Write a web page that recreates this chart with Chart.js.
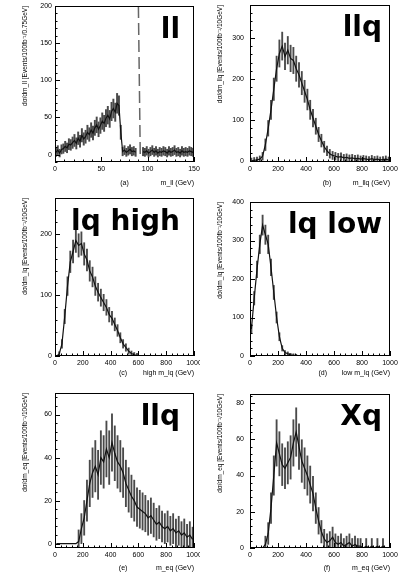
<!DOCTYPE html>
<html>
<head>
<meta charset="utf-8">
<title>Mass distributions</title>
<script src="https://cdn.jsdelivr.net/npm/chart.js@4.4.0/dist/chart.umd.min.js"></script>
<style>
    html, body { margin: 0; padding: 0; background: #fff; }
    #wrap { position: relative; width: 403px; height: 574px; overflow: hidden; }
    canvas { position: absolute; }
</style>
</head>
<body>
<div id="wrap">
    <canvas id="p1" width="200" height="190" style="left:0;top:0"></canvas>
    <canvas id="p2" width="203" height="190" style="left:200px;top:0"></canvas>
    <canvas id="p3" width="200" height="190" style="left:0;top:190px"></canvas>
    <canvas id="p4" width="203" height="190" style="left:200px;top:190px"></canvas>
    <canvas id="p5" width="200" height="194" style="left:0;top:380px"></canvas>
    <canvas id="p6" width="203" height="194" style="left:200px;top:380px"></canvas>
</div>
<script>
// (a) m_ll, 2 GeV bins from 0 to 150 (null = Z peak region, drawn dashed)
const llBin = 2;
const llValues = [
    3, 6, 2, 7, 8, 11, 9, 14, 13, 16,
    19, 15, 22, 18, 26, 21, 24, 30, 27, 33,
    29, 36, 40, 34, 39, 45, 42, 49, 53, 48,
    58, 62, 57, 69, 66, 30, 4, 6, 3, 5,
    7, 4, 5, 3,
    null, null, null,
    4, 3, 5, 2, 4, 6, 3, 5, 2, 4, 3, 5, 4, 2, 5, 3, 4, 6, 3, 4, 2, 5, 3, 4, 3, 5, 4, 3
];
const zPeakX = [90, 92];
const zPeakY = [200, 0];

// the other panels use 20 GeV bins from 0 to 1000
const massBin = 20;
const llqValues = [
    1, 2, 3, 5, 12, 40, 80, 125, 175, 225,
    262, 280, 255, 270, 250, 245, 225, 210, 190, 170,
    150, 125, 105, 85, 65, 50, 35, 25, 18, 14,
    12, 10, 11, 8, 9, 7, 8, 6, 7, 5,
    6, 5, 4, 6, 4, 5, 3, 4, 5, 3
];
const lqHighValues = [
    0, 3, 20, 65, 115, 155, 172, 190, 182, 185,
    168, 158, 140, 130, 115, 105, 96, 88, 80, 68,
    62, 52, 42, 30, 20, 14, 8, 4, 2, 1,
    0, 0, 0, 0, 0, 0, 0, 0, 0, 0,
    0, 0, 0, 0, 0, 0, 0, 0, 0, 0
];
const lqLowValues = [
    70, 150, 225, 290, 340, 315, 290, 230, 165, 100,
    50, 20, 9, 6, 3, 2, 1, 0, 0, 0,
    0, 0, 0, 0, 0, 0, 0, 0, 0, 0,
    0, 0, 0, 0, 0, 0, 0, 0, 0, 0,
    0, 0, 0, 0, 0, 0, 0, 0, 0, 0
];
const eqValues = [
    0, 0, 0, 0, 0, 0, 0, 0, 1, 7,
    12, 20, 28, 33, 36, 32, 40, 38, 44, 40,
    47, 42, 38, 36, 33, 28, 25, 22, 20, 17,
    16, 15, 14, 12, 13, 11, 9, 10, 8, 7,
    8, 6, 7, 5, 6, 4, 5, 3, 4, 2
];
const xqValues = [
    0, 0, 0, 0, 0, 2, 8, 22, 40, 58,
    52, 46, 44, 47, 50, 58, 64, 56, 48, 44,
    40, 35, 30, 22, 15, 9, 5, 3, 4, 6,
    3, 2, 3, 1, 2, 3, 1, 2, 1, 1,
    0, 1, 0, 1, 0, 1, 0, 1, 0, 0
];

// tick labels
const llTicksX = [0, 50, 100, 150];
const massTicksX = [0, 200, 400, 600, 800, 1000];
const llTicksY = [0, 50, 100, 150, 200];
const llqTicksY = [0, 100, 200, 300];
const lqHighTicksY = [0, 100, 200];
const lqLowTicksY = [0, 100, 200, 300, 400];
const eqTicksY = [0, 20, 40, 60];
const xqTicksY = [0, 20, 40, 60, 80];

const FONT = '"Liberation Sans", Arial, sans-serif';

// bin centres + statistical error bars
function histPoints(values, width) {
    return values.map((v, i) => ({ x: i * width + width / 2, y: v }));
}
function errPoints(values, width, k, c) {
    const pts = [];
    values.forEach((v, i) => {
        if (v === null || v === 0) return;
        const e = k * Math.sqrt(v + c);
        pts.push({ x: i * width + width / 2, y: [v - e, v + e] });
    });
    return pts;
}

// frame, inward ticks, big label and panel letter
const decor = {
    id: 'decor',
    afterDraw(chart, args, o) {
        const { ctx, chartArea: a, scales: { x, y } } = chart;
        ctx.save();
        ctx.strokeStyle = '#000';
        ctx.lineWidth = 1;
        ctx.strokeRect(a.left + 0.5, a.top + 0.5, a.right - a.left - 1, a.bottom - a.top - 1);

        const minorTicks = (scale, list) => {
            const step = (list[1] - list[0]) / 5;
            const out = [];
            for (let v = Math.ceil(scale.min / step) * step; v <= scale.max + 1e-9; v += step) {
                const major = list.some(t => Math.abs(t - v) < step / 10);
                out.push({ px: scale.getPixelForValue(v), len: major ? 5 : 2.5 });
            }
            return out;
        };
        ctx.beginPath();
        minorTicks(x, o.xTicks).forEach(t => {
            ctx.moveTo(Math.round(t.px) + 0.5, a.bottom);
            ctx.lineTo(Math.round(t.px) + 0.5, a.bottom - t.len);
        });
        minorTicks(y, o.yTicks).forEach(t => {
            ctx.moveTo(a.left, Math.round(t.px) + 0.5);
            ctx.lineTo(a.left + t.len, Math.round(t.px) + 0.5);
        });
        ctx.stroke();

        ctx.fillStyle = '#000';
        ctx.font = 'bold 28px "DejaVu Sans", sans-serif';
        ctx.textAlign = 'right';
        ctx.textBaseline = 'alphabetic';
        ctx.fillText(o.label, a.right - o.dx, a.top + o.dy);

        ctx.font = '7px ' + FONT;
        ctx.textAlign = 'center';
        ctx.textBaseline = 'middle';
        ctx.fillText(o.tag, a.left + (a.right - a.left) * o.tagFrac, x.bottom - o.titleOff);
        ctx.restore();
    }
};

function makePanel(id, p) {
    const datasets = [
        {
            type: 'line',
            data: histPoints(p.values, p.bin),
            borderColor: '#111',
            borderWidth: 1.2,
            pointRadius: 0,
            tension: 0,
            spanGaps: false,
            order: 0
        },
        {
            type: 'bar',
            data: errPoints(p.values, p.bin, p.errK, p.errC),
            backgroundColor: '#4a4a4a',
            borderWidth: 0,
            barThickness: p.barW,
            order: 1
        }
    ];
    if (p.extra) datasets.push(p.extra);

    new Chart(document.getElementById(id), {
        type: 'bar',
        data: { datasets },
        options: {
            responsive: false,
            animation: false,
            events: [],
            layout: { padding: { top: p.padTop, right: p.padRight, left: 0, bottom: 0 } },
            plugins: {
                legend: { display: false },
                tooltip: { enabled: false },
                decor: {
                    xTicks: p.xTicks, yTicks: p.yTicks, label: p.label, dx: p.dx, dy: p.dy,
                    tag: p.tag, tagFrac: p.tagFrac, titleOff: p.titleOff
                }
            },
            scales: {
                x: {
                    type: 'linear',
                    min: p.xMin,
                    max: p.xMax,
                    offset: false,
                    grid: { display: false, drawTicks: false },
                    border: { display: false },
                    ticks: {
                        font: { size: 7, family: FONT }, color: '#000', padding: 3, maxRotation: 0, autoSkip: false,
                        callback: v => String(v)
                    },
                    afterBuildTicks: s => { s.ticks = p.xTicks.map(v => ({ value: v })); },
                    afterFit: s => { s.height = p.xHeight; s.paddingLeft = 0; s.paddingRight = 0; },
                    title: {
                        display: true, text: p.xTitle, align: 'end', color: '#000',
                        font: { size: 7, family: FONT }, padding: { top: 0, bottom: p.titleOff - 4.2 }
                    }
                },
                y: {
                    type: 'linear',
                    min: p.yMin,
                    max: p.yMax,
                    grid: { display: false, drawTicks: false },
                    border: { display: false },
                    ticks: { font: { size: 7, family: FONT }, color: '#000', padding: p.yPad, callback: v => String(v) },
                    afterBuildTicks: s => { s.ticks = p.yTicks.map(v => ({ value: v })); },
                    afterFit: s => { s.width = p.yWidth; s.paddingTop = 0; s.paddingBottom = 0; },
                    title: {
                        display: true, text: p.yTitle, align: 'end', color: '#000',
                        font: { size: 6.5, family: FONT }, padding: { top: p.yTitleOff - 3.9, bottom: 0 }
                    }
                }
            }
        },
        plugins: [decor]
    });
}

const left = { padRight: 6, yWidth: 55, yPad: 3, yTitleOff: 25, dx: 14, dy: 32 };
const right = { padRight: 13, yWidth: 50, yPad: 6, yTitleOff: 20, dx: 8, dy: 31 };
const mass = { bin: massBin, xMin: 0, xMax: 1000, xTicks: massTicksX, barW: 1.2 };

makePanel('p1', Object.assign({}, left, {
    values: llValues, bin: llBin, xMin: 0, xMax: 150, xTicks: llTicksX, barW: 1.3,
    yMin: -10, yMax: 200, yTicks: llTicksY, errK: 1.5, errC: 10,
    padTop: 6, xHeight: 28, titleOff: 7,
    label: 'll', tag: '(a)', tagFrac: 0.5,
    xTitle: 'm_ll (GeV)', yTitle: 'dσ/dm_ll [Events/100fb⁻¹/0.75GeV]',
    extra: {
        type: 'line',
        data: zPeakX.map((v, i) => ({ x: v, y: zPeakY[i] })),
        borderColor: '#666',
        borderWidth: 1.5,
        borderDash: [12, 5],
        pointRadius: 0,
        order: 2
    }
}));
makePanel('p2', Object.assign({}, right, mass, {
    values: llqValues, yMin: -2, yMax: 380, yTicks: llqTicksY, errK: 2.0, errC: 10,
    padTop: 5, xHeight: 28, titleOff: 7,
    label: 'llq', tag: '(b)', tagFrac: 0.55,
    xTitle: 'm_llq (GeV)', yTitle: 'dσ/dm_llq [Events/100fb⁻¹/10GeV]'
}));
makePanel('p3', Object.assign({}, left, mass, {
    values: lqHighValues, yMin: 0, yMax: 260, yTicks: lqHighTicksY, errK: 1.4, errC: 5,
    padTop: 8, xHeight: 24, titleOff: 7,
    label: 'lq high', tag: '(c)', tagFrac: 0.49,
    xTitle: 'high m_lq (GeV)', yTitle: 'dσ/dm_lq [Events/100fb⁻¹/10GeV]'
}));
makePanel('p4', Object.assign({}, right, mass, {
    values: lqLowValues, yMin: 0, yMax: 400, yTicks: lqLowTicksY, errK: 1.4, errC: 5,
    padTop: 12, xHeight: 24, titleOff: 7,
    label: 'lq low', tag: '(d)', tagFrac: 0.52,
    xTitle: 'low m_lq (GeV)', yTitle: 'dσ/dm_lq [Events/100fb⁻¹/10GeV]'
}));
makePanel('p5', Object.assign({}, left, mass, {
    values: eqValues, yMin: -2, yMax: 70, yTicks: eqTicksY, errK: 1.8, errC: 8,
    padTop: 13, xHeight: 26, titleOff: 6,
    label: 'llq', tag: '(e)', tagFrac: 0.49,
    xTitle: 'm_eq (GeV)', yTitle: 'dσ/dm_eq [Events/100fb⁻¹/10GeV]'
}));
makePanel('p6', Object.assign({}, right, mass, {
    values: xqValues, yMin: 0, yMax: 85, yTicks: xqTicksY, errK: 1.6, errC: 6,
    padTop: 14, xHeight: 26, titleOff: 6,
    label: 'Xq', tag: '(f)', tagFrac: 0.55,
    xTitle: 'm_eq (GeV)', yTitle: 'dσ/dm_eq [Events/100fb⁻¹/10GeV]'
}));
</script>
</body>
</html>
